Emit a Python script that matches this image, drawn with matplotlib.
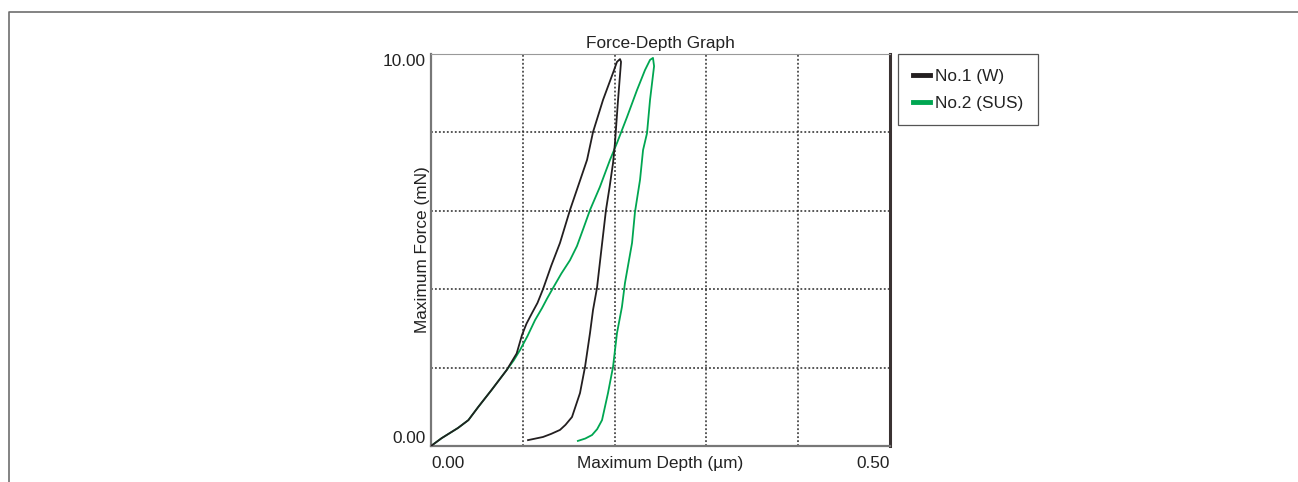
"""Force-depth indentation curves for two samples."""

import matplotlib

matplotlib.use("Agg")
import matplotlib.pyplot as plt
from matplotlib.lines import Line2D

# No.1 (W): loading then unloading, depth in um, force in mN
W_DEPTH = [0.0, 0.0116, 0.0294, 0.0407, 0.0516, 0.066, 0.0825, 0.0933, 0.0991,
           0.104, 0.110, 0.116, 0.122, 0.131, 0.1405, 0.1514, 0.161, 0.170,
           0.1765, 0.1874, 0.1983, 0.2026, 0.2059,
           0.207, 0.2035, 0.2004, 0.1983, 0.1945, 0.1906, 0.1858, 0.1808,
           0.1765, 0.1732, 0.1678, 0.1623, 0.1536, 0.1465, 0.1405, 0.131,
           0.122, 0.1057]
W_FORCE = [0.0, 0.20, 0.46, 0.66, 1.00, 1.43, 1.94, 2.36, 2.83,
           3.12, 3.39, 3.65, 4.00, 4.60, 5.18, 6.02, 6.68, 7.30,
           8.01, 8.83, 9.52, 9.80, 9.87,
           9.80, 8.75, 7.73, 7.22, 6.60, 6.02, 5.05, 4.03,
           3.47, 2.88, 2.02, 1.35, 0.74, 0.54, 0.41, 0.31,
           0.23, 0.15]

# No.2 (SUS)
SUS_DEPTH = [0.0, 0.0116, 0.0294, 0.0407, 0.0516, 0.066, 0.0825, 0.090, 0.097,
             0.105, 0.1133, 0.121, 0.1264, 0.1329, 0.142, 0.1514, 0.159,
             0.166, 0.1732, 0.184, 0.195, 0.2026, 0.2135, 0.2244,
             0.2331, 0.2386, 0.2418, 0.243, 0.2386, 0.2353, 0.231, 0.2277,
             0.2222, 0.219, 0.2150, 0.2113, 0.208, 0.2026, 0.1983, 0.1928,
             0.1863, 0.1810, 0.1754, 0.168, 0.160]
SUS_FORCE = [0.0, 0.20, 0.46, 0.66, 1.00, 1.43, 1.94, 2.18, 2.45,
             2.80, 3.21, 3.52, 3.76, 4.03, 4.40, 4.74, 5.10,
             5.55, 6.02, 6.61, 7.30, 7.73, 8.39, 9.08,
             9.59, 9.85, 9.90, 9.69, 8.83, 7.98, 7.55, 6.79,
             5.97, 5.18, 4.65, 4.16, 3.55, 2.88, 2.02, 1.35,
             0.66, 0.43, 0.28, 0.19, 0.13]

SERIES = ["No.1 (W)", "No.2 (SUS)"]
COLORS = ["#231f20", "#00a651"]
X_TICKS = [0.0, 0.5]
X_TICK_LABELS = ["0.00", "0.50"]
Y_TICKS = [0.0, 10.0]
Y_TICK_LABELS = ["0.00", "10.00"]
X_GRID = [0.1, 0.2, 0.3, 0.4]
Y_GRID = [2, 4, 6, 8]

W, H = 1298, 482
FS = 12.4

plt.rcParams["font.family"] = ["Liberation Sans", "DejaVu Sans"]

fig = plt.figure(figsize=(W / 100, H / 100), dpi=100)
ax = fig.add_axes([431 / W, 1 - 446 / H, (890 - 431) / W, (446 - 54) / H])

# outer frame (left and top edges only)
fig.add_artist(Line2D([9 / W, 9 / W, 1.0], [0.0, 1 - 12 / H, 1 - 12 / H],
                      transform=fig.transFigure, color="#6e6e6e", linewidth=1.2))

grid_style = dict(color="#2a2a2a", linewidth=1.1, linestyle=(0, (1.2, 1.4)), zorder=1)
for gx in X_GRID:
    ax.axvline(gx, **grid_style)
for gy in Y_GRID:
    ax.axhline(gy, **grid_style)

ax.plot(W_DEPTH, W_FORCE, color=COLORS[0], linewidth=1.3, zorder=3)
ax.plot(SUS_DEPTH, SUS_FORCE, color=COLORS[1], linewidth=1.3, zorder=2)

ax.set_xlim(0, 0.5)
ax.set_ylim(0, 10)
ax.set_xticks(X_TICKS, X_TICK_LABELS)
ax.set_yticks(Y_TICKS, Y_TICK_LABELS)
ax.tick_params(axis="both", length=0, labelsize=FS, colors="#222222")
ax.tick_params(axis="x", pad=7)
ax.tick_params(axis="y", pad=4)
xl = ax.get_xticklabels()
xl[0].set_ha("left")
xl[1].set_ha("right")
yl = ax.get_yticklabels()
yl[0].set_va("bottom")
yl[1].set_va("top")

ax.spines["left"].set_color("#777777")
ax.spines["bottom"].set_color("#777777")
ax.spines["left"].set_linewidth(1.6)
ax.spines["bottom"].set_linewidth(1.6)
ax.spines["top"].set_color("#999999")
ax.spines["top"].set_linewidth(0.8)
ax.spines["right"].set_color("#3a3232")
ax.spines["right"].set_linewidth(2.2)

ax.set_title("Force-Depth Graph", fontsize=FS, color="#222222", pad=4)
ax.text(0.5, -10 / 392, "Maximum Depth (\u00b5m)", transform=ax.transAxes,
        ha="center", va="top", fontsize=FS, color="#222222")
ax.text(-1 / 459, 0.5, "Maximum Force (mN)", transform=ax.transAxes,
        rotation=90, ha="right", va="center", fontsize=FS, color="#222222")

handles = [Line2D([], [], color=c, linewidth=3.5) for c in COLORS]
leg = fig.legend(handles, SERIES, loc="upper left",
                 bbox_to_anchor=(898 / W, 1 - 54 / H), borderaxespad=0,
                 fontsize=FS, frameon=True, fancybox=False, framealpha=1,
                 edgecolor="#555555", handlelength=1.0, handletextpad=0.3,
                 borderpad=0.85, labelspacing=0.7)
leg.get_frame().set_linewidth(0.9)
for t in leg.get_texts():
    t.set_color("#222222")

fig.savefig("out.png", dpi=100)
